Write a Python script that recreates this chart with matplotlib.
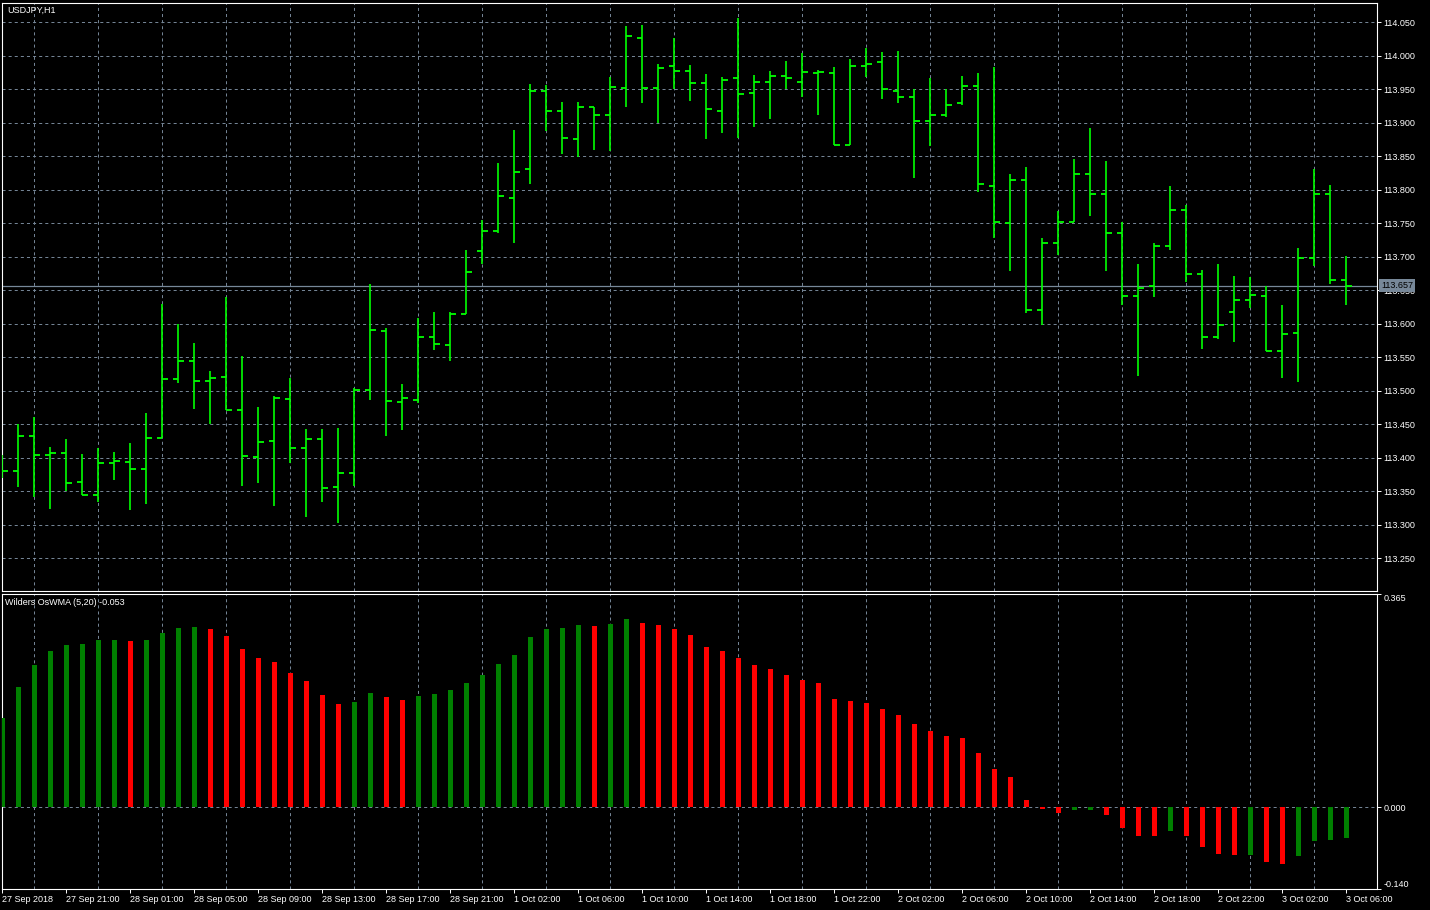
import numpy as np
import matplotlib
matplotlib.use("Agg")
import matplotlib.pyplot as plt
from matplotlib.ticker import FormatStrFormatter

plt.rcParams['font.family'] = ['Liberation Sans', 'DejaVu Sans']
plt.rcParams['lines.scale_dashes'] = False

# USDJPY H1 bars, 27 Sep 17:00 .. 3 Oct 06:00
opens = [113.390, 113.381, 113.432, 113.405, 113.408, 113.364, 113.345, 113.393, 113.394, 113.384,
         113.430, 113.518, 113.545, 113.515, 113.521, 113.472, 113.402, 113.426, 113.488, 113.415,
         113.429, 113.357, 113.378, 113.502, 113.589, 113.484, 113.487, 113.581, 113.569, 113.614,
         113.708, 113.739, 113.788, 113.831, 113.947, 113.918, 113.876, 113.924, 113.911, 113.952,
         114.027, 113.952, 113.984, 113.978, 113.960, 113.918, 113.967, 113.945, 113.961, 113.970,
         113.961, 113.975, 113.975, 113.867, 113.984, 113.991, 113.948, 113.939, 113.902, 113.912,
         113.929, 113.955, 113.806, 113.751, 113.815, 113.621, 113.720, 113.752, 113.824, 113.794,
         113.735, 113.642, 113.656, 113.716, 113.770, 113.675, 113.581, 113.618, 113.635, 113.642,
         113.560, 113.587, 113.698, 113.794, 113.666]
highs = [113.405, 113.450, 113.461, 113.416, 113.428, 113.406, 113.415, 113.409, 113.422, 113.467,
         113.630, 113.600, 113.571, 113.530, 113.640, 113.552, 113.476, 113.493, 113.519, 113.443,
         113.443, 113.445, 113.505, 113.660, 113.594, 113.510, 113.609, 113.618, 113.618, 113.710,
         113.755, 113.840, 113.889, 113.958, 113.956, 113.931, 113.931, 113.924, 113.968, 114.045,
         114.046, 113.988, 114.027, 113.986, 113.973, 113.968, 114.056, 113.971, 113.977, 113.992,
         114.004, 113.979, 113.983, 113.995, 114.012, 114.006, 114.007, 113.950, 113.967, 113.950,
         113.970, 113.974, 113.983, 113.824, 113.834, 113.728, 113.768, 113.846, 113.892, 113.843,
         113.752, 113.689, 113.721, 113.806, 113.777, 113.681, 113.690, 113.672, 113.670, 113.656,
         113.628, 113.713, 113.831, 113.807, 113.702]
lows = [113.370, 113.357, 113.342, 113.324, 113.351, 113.344, 113.335, 113.367, 113.323, 113.332,
        113.430, 113.512, 113.473, 113.450, 113.472, 113.358, 113.362, 113.329, 113.393, 113.312,
        113.335, 113.303, 113.358, 113.487, 113.432, 113.442, 113.482, 113.561, 113.544, 113.614,
        113.690, 113.735, 113.720, 113.808, 113.887, 113.853, 113.849, 113.860, 113.858, 113.923,
        113.929, 113.899, 113.951, 113.932, 113.876, 113.885, 113.878, 113.893, 113.905, 113.950,
        113.938, 113.911, 113.867, 113.867, 113.969, 113.935, 113.929, 113.817, 113.866, 113.909,
        113.926, 113.796, 113.728, 113.679, 113.616, 113.598, 113.703, 113.752, 113.761, 113.679,
        113.628, 113.522, 113.640, 113.710, 113.663, 113.563, 113.578, 113.573, 113.623, 113.560,
        113.520, 113.514, 113.687, 113.659, 113.628]
closes = [113.381, 113.433, 113.405, 113.408, 113.363, 113.345, 113.393, 113.396, 113.384, 113.430,
          113.518, 113.545, 113.515, 113.520, 113.472, 113.403, 113.424, 113.490, 113.415, 113.429,
          113.355, 113.378, 113.502, 113.591, 113.485, 113.490, 113.581, 113.570, 113.615, 113.678,
          113.739, 113.791, 113.827, 113.948, 113.918, 113.878, 113.923, 113.911, 113.954, 114.029,
          113.952, 113.982, 113.978, 113.960, 113.920, 113.964, 113.943, 113.961, 113.970, 113.967,
          113.976, 113.976, 113.867, 113.985, 113.988, 113.950, 113.939, 113.902, 113.912, 113.927,
          113.955, 113.808, 113.752, 113.814, 113.621, 113.720, 113.752, 113.824, 113.794, 113.736,
          113.641, 113.654, 113.716, 113.770, 113.675, 113.581, 113.599, 113.636, 113.643, 113.560,
          113.585, 113.699, 113.794, 113.666, 113.657]

# Wilders OsWMA (5,20)
oswma = [0.152, 0.206, 0.243, 0.268, 0.277, 0.279, 0.286, 0.287, 0.284, 0.286,
         0.298, 0.307, 0.308, 0.305, 0.293, 0.270, 0.255, 0.249, 0.230, 0.216,
         0.192, 0.177, 0.180, 0.196, 0.189, 0.184, 0.191, 0.193, 0.200, 0.212,
         0.227, 0.246, 0.261, 0.291, 0.305, 0.307, 0.312, 0.310, 0.313, 0.322,
         0.315, 0.312, 0.305, 0.294, 0.275, 0.267, 0.255, 0.244, 0.236, 0.227,
         0.218, 0.212, 0.186, 0.182, 0.179, 0.168, 0.158, 0.143, 0.130, 0.122,
         0.118, 0.092, 0.065, 0.051, 0.012, -0.003, -0.010, -0.005, -0.004, -0.014,
         -0.035, -0.049, -0.050, -0.041, -0.049, -0.068, -0.080, -0.082, -0.081, -0.094,
         -0.097, -0.083, -0.057, -0.056, -0.053]

time_labels = ["27 Sep 2018", "27 Sep 21:00", "28 Sep 01:00", "28 Sep 05:00", "28 Sep 09:00",
               "28 Sep 13:00", "28 Sep 17:00", "28 Sep 21:00", "1 Oct 02:00", "1 Oct 06:00",
               "1 Oct 10:00", "1 Oct 14:00", "1 Oct 18:00", "1 Oct 22:00", "2 Oct 02:00",
               "2 Oct 06:00", "2 Oct 10:00", "2 Oct 14:00", "2 Oct 18:00", "2 Oct 22:00",
               "3 Oct 02:00", "3 Oct 06:00"]
bid = 113.657

GRID = '#778899'
BAR = '#00FF00'
dash = (0, (2.2, 2.2))
W, H = 1430, 910

fig = plt.figure(figsize=(W / 100, H / 100), dpi=100, facecolor='black')
ax = fig.add_axes([2 / W, 1 - 591 / H, 1375 / W, 588 / H])
ax2 = fig.add_axes([2 / W, 1 - 889 / H, 1375 / W, 295 / H])

x = np.arange(len(opens))
for a in (ax, ax2):
    a.set_facecolor('black')
    for s in a.spines.values():
        s.set_color('white')
        s.set_linewidth(0.8)
    a.set_xlim(-0.03, 85.91)
    a.set_xticks(np.arange(2, 85, 2), minor=True)
    a.grid(True, which='minor', axis='x', color=GRID, lw=0.7, linestyle=dash, zorder=0)
    a.tick_params(which='minor', length=0)
    a.yaxis.tick_right()
    a.tick_params(axis='y', colors='white', labelsize=6.5, length=3, width=0.7, pad=1.5)
    a.set_axisbelow(True)

# price pane
ax.vlines(x, lows, highs, colors=BAR, lw=1.2, zorder=3)
ax.hlines(opens, x - 0.33, x, colors=BAR, lw=1.3, zorder=3)
ax.hlines(closes, x, x + 0.33, colors=BAR, lw=1.3, zorder=3)
ax.axhline(bid, color=GRID, lw=0.9, zorder=2)

ax.set_ylim(113.2015, 114.0787)
ax.set_yticks(np.arange(113.25, 114.051, 0.05))
ax.yaxis.set_major_formatter(FormatStrFormatter('%.3f'))
ax.grid(True, which='major', axis='y', color=GRID, lw=0.7, linestyle=dash, zorder=0)
ax.set_xticks(np.arange(0, 85, 4))
ax.tick_params(axis='x', which='major', bottom=False, labelbottom=False)
ax.text(0.0036, 0.995, 'USDJPY,H1', transform=ax.transAxes, ha='left', va='top',
        color='white', fontsize=6.5)
ax.annotate(f'{bid:.3f}', xy=(1, bid), xycoords=('axes fraction', 'data'),
            xytext=(4, 0), textcoords='offset pixels', ha='left', va='center',
            fontsize=6.5, color='black', annotation_clip=False,
            bbox=dict(boxstyle='square,pad=0.22', fc=GRID, ec='none'))

# indicator pane
osc = np.array(oswma)
rising = np.concatenate([[True], np.diff(osc) > 0])
cols = np.where(rising, '#008000', '#FF0000')
ax2.bar(x, osc, width=0.27, color=cols, zorder=3)
ax2.axhline(0, color=GRID, lw=0.7, linestyle=dash, zorder=1)
ax2.set_ylim(-0.140, 0.365)
ax2.set_yticks([0.365, 0.0, -0.140])
ax2.yaxis.set_major_formatter(FormatStrFormatter('%.3f'))
ylabs = ax2.get_yticklabels()
ylabs[0].set_va('top')
ylabs[2].set_va('bottom')
ax2.set_xticks(np.arange(0, 85, 4))
ax2.set_xticklabels(time_labels, ha='left')
ax2.tick_params(axis='x', which='major', colors='white', labelsize=6.5, length=3,
                width=0.7, pad=1)
ax2.text(0.0025, 0.985, f'Wilders OsWMA (5,20) {oswma[-1]:.3f}', transform=ax2.transAxes,
         ha='left', va='top', color='white', fontsize=6.5)

fig.savefig('out.png', dpi=100, facecolor='black')
